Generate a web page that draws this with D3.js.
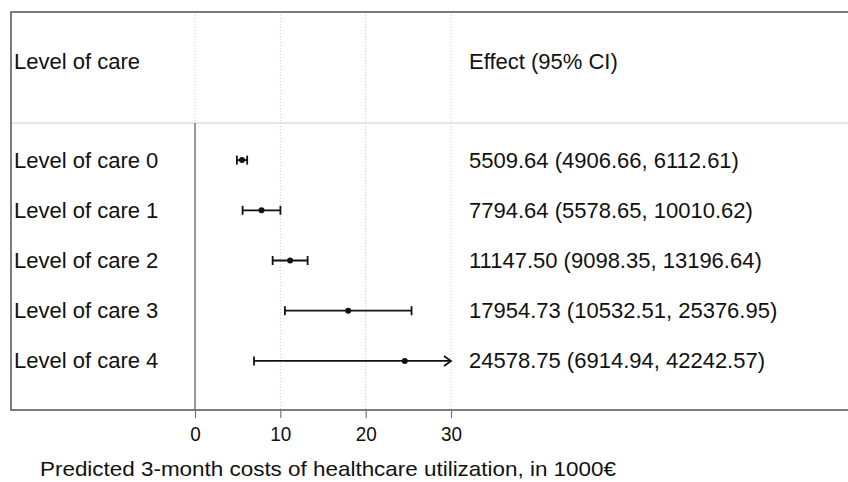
<!DOCTYPE html>
<html>
<head>
<meta charset="utf-8">
<script src="https://cdn.jsdelivr.net/npm/d3@7"></script>
<style>
  body { margin: 0; background: #fff; }
  svg { display: block; }
</style>
</head>
<body>
<svg id="chart" width="848" height="482"></svg>
<script>
const levels = ['Level of care 0', 'Level of care 1', 'Level of care 2', 'Level of care 3', 'Level of care 4'];
const effect = [5509.64, 7794.64, 11147.50, 17954.73, 24578.75];
const lower = [4906.66, 5578.65, 9098.35, 10532.51, 6914.94];
const upper = [6112.61, 10010.62, 13196.64, 25376.95, 42242.57];
const xTicks = [0, 10, 20, 30];

const box = {left: 11, top: 12, right: 852, bottom: 410, header: 123};
const plot = {x0: 195, x1: 451};
const font = '"Liberation Sans", Arial, sans-serif';
const fs = 22;

const svg = d3.select('#chart');

const x = d3.scaleLinear().domain([0, 30]).range([plot.x0, plot.x1]);
const y = d3.scaleBand().domain(levels).range([135, 386]);

const fmt = d3.format('.2f');
const rows = levels.map((l, i) => ({
  label: l, est: effect[i] / 1000, lo: lower[i] / 1000, hi: upper[i] / 1000,
  text: `${fmt(effect[i])} (${fmt(lower[i])}, ${fmt(upper[i])})`
}));

// gridlines (dotted)
svg.append('g')
  .selectAll('line')
  .data(xTicks.slice(1))
  .join('line')
  .attr('x1', d => x(d)).attr('x2', d => x(d))
  .attr('y1', box.top).attr('y2', box.bottom)
  .attr('stroke', '#c8c8c8').attr('stroke-dasharray', '1,2');
svg.append('line')
  .attr('x1', x(0)).attr('x2', x(0))
  .attr('y1', box.top).attr('y2', box.header)
  .attr('stroke', '#c8c8c8').attr('stroke-dasharray', '1,2');

// header separator
svg.append('line')
  .attr('x1', box.left).attr('x2', box.right)
  .attr('y1', box.header).attr('y2', box.header)
  .attr('stroke', '#dcdcdc').attr('stroke-width', 1.5);

// outer box
svg.append('rect')
  .attr('x', box.left).attr('y', box.top)
  .attr('width', box.right - box.left).attr('height', box.bottom - box.top)
  .attr('fill', 'none').attr('stroke', '#6e6e6e').attr('stroke-width', 1.8);

// zero line
svg.append('line')
  .attr('x1', x(0)).attr('x2', x(0))
  .attr('y1', box.header).attr('y2', box.bottom)
  .attr('stroke', '#777').attr('stroke-width', 1.5);

// x axis
const axis = svg.append('g')
  .attr('transform', `translate(0,${box.bottom})`)
  .call(d3.axisBottom(x).tickValues(xTicks).tickSize(8).tickPadding(8).tickFormat(d3.format('d')));
axis.select('.domain').remove();
axis.selectAll('.tick line').attr('stroke', '#777').attr('stroke-width', 1.2);
axis.selectAll('.tick text')
  .attr('fill', '#111')
  .attr('font-family', font)
  .attr('font-size', 21)
  .attr('transform', 'scale(0.9,1)');

svg.append('text')
  .attr('x', 40).attr('y', 476)
  .attr('font-family', font)
  .attr('font-size', 21).attr('fill', '#111')
  .attr('textLength', 576).attr('lengthAdjust', 'spacingAndGlyphs')
  .text('Predicted 3-month costs of healthcare utilization, in 1000€');

// headers
svg.append('text').attr('x', 14).attr('y', 69)
  .attr('font-family', font).attr('font-size', fs).attr('fill', '#111')
  .text('Level of care');
svg.append('text').attr('x', 469).attr('y', 69)
  .attr('font-family', font).attr('font-size', fs).attr('fill', '#111')
  .text('Effect (95% CI)');

const cy = d => y(d.label) + y.bandwidth() / 2;

// row labels
svg.append('g')
  .selectAll('text')
  .data(rows)
  .join('text')
  .attr('x', 14).attr('y', d => cy(d) + 7.5)
  .attr('font-family', font).attr('font-size', fs).attr('fill', '#111')
  .text(d => d.label);

svg.append('g')
  .selectAll('text')
  .data(rows)
  .join('text')
  .attr('x', 469).attr('y', d => cy(d) + 7.5)
  .attr('font-family', font).attr('font-size', fs).attr('fill', '#111')
  .text(d => d.text);

// CIs
const xmax = x.domain()[1];
const ci = svg.append('g').attr('stroke', '#111').attr('stroke-width', 1.8);
ci.selectAll('line.ci')
  .data(rows)
  .join('line')
  .attr('class', 'ci')
  .attr('x1', d => x(d.lo)).attr('x2', d => x(Math.min(d.hi, xmax)))
  .attr('y1', cy).attr('y2', cy);
ci.selectAll('line.lcap')
  .data(rows)
  .join('line')
  .attr('class', 'lcap')
  .attr('x1', d => x(d.lo)).attr('x2', d => x(d.lo))
  .attr('y1', d => cy(d) - 4.5).attr('y2', d => cy(d) + 4.5);
ci.selectAll('line.rcap')
  .data(rows.filter(d => d.hi <= xmax))
  .join('line')
  .attr('class', 'rcap')
  .attr('x1', d => x(d.hi)).attr('x2', d => x(d.hi))
  .attr('y1', d => cy(d) - 4.5).attr('y2', d => cy(d) + 4.5);
ci.selectAll('path.arrow')
  .data(rows.filter(d => d.hi > xmax))
  .join('path')
  .attr('class', 'arrow')
  .attr('fill', 'none')
  .attr('d', d => `M${x(xmax) - 7},${cy(d) - 5}L${x(xmax)},${cy(d)}L${x(xmax) - 7},${cy(d) + 5}`);

svg.append('g')
  .selectAll('circle')
  .data(rows)
  .join('circle')
  .attr('cx', d => x(d.est)).attr('cy', cy)
  .attr('r', 3).attr('fill', '#111');
</script>
</body>
</html>
